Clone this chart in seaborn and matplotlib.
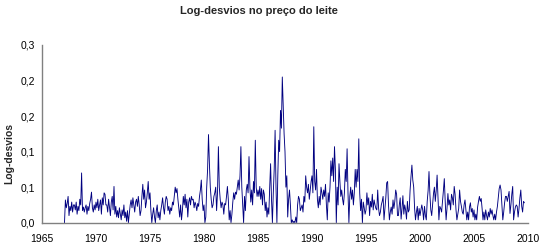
import numpy as np
import pandas as pd
import matplotlib
matplotlib.use("Agg")
import matplotlib.pyplot as plt
import seaborn as sns

# Monthly log-deviations (thousandths), Feb 1967 .. Sep 2009
y1967 = [0, 32, 21, 27, 37, 10, 23, 17, 29, 15, 25]
y1968 = [25, 18, 29, 12, 23, 17, 33, 25, 70, 17, 22, 15]
y1969 = [21, 25, 12, 23, 17, 27, 33, 43, 21, 15, 25, 18]
y1970 = [29, 21, 33, 17, 25, 32, 12, 35, 25, 42, 40, 25]
y1971 = [25, 15, 33, 21, 10, 29, 37, 18, 51, 12, 23, 8]
y1972 = [17, 7, 21, 12, 4, 18, 10, 25, 7, 15, 2, 17]
y1973 = [0, 12, 25, 32, 21, 35, 25, 15, 29, 33, 23, 37]
y1974 = [25, 10, 17, 37, 54, 33, 46, 21, 29, 42, 58, 33]
y1975 = [42, 17, 0, 12, 21, 8, 0, 17, 25, 7, 15, 4]
y1976 = [17, 25, 35, 21, 12, 29, 37, 33, 17, 23, 12, 21]
y1977 = [17, 29, 25, 37, 50, 42, 48, 33, 21, 8, 25, 4]
y1978 = [17, 37, 25, 40, 21, 33, 8, 29, 35, 25, 37, 32]
y1979 = [33, 21, 29, 25, 17, 27, 23, 37, 46, 60, 33, 17]
y1980 = [25, 0, 8, 50, 75, 124, 83, 50, 33, 21, 25, 37]
y1981 = [42, 50, 17, 42, 107, 50, 33, 21, 29, 25, 12, 27]
y1982 = [25, 37, 51, 33, 4, 17, 0, 12, 29, 42, 33, 43]
y1983 = [40, 50, 60, 46, 66, 107, 50, 25, 0, 37, 17, 46]
y1984 = [54, 42, 93, 50, 29, 46, 25, 58, 42, 116, 50, 37]
y1985 = [46, 37, 51, 33, 48, 25, 46, 40, 17, 29, 8, 21]
y1986 = [12, 50, 83, 33, 0, 42, 75, 130, 50, 0, 66, 116]
y1987 = [100, 158, 133, 205, 166, 125, 100, 50, 66, 8, 33, 46]
y1988 = [25, 0, 4, 0, 2, 0, 8, 0, 25, 37, 33, 17]
y1989 = [21, 25, 15, 37, 29, 66, 50, 42, 54, 33, 46, 58]
y1990 = [66, 42, 135, 58, 46, 75, 33, 21, 37, 25, 50, 42]
y1991 = [33, 46, 37, 54, 25, 4, 42, 29, 50, 87, 66, 91]
y1992 = [58, 107, 75, 0, 50, 25, 83, 58, 37, 46, 33, 25]
y1993 = [42, 75, 58, 104, 42, 0, 37, 50, 33, 46, 25, 42]
y1994 = [75, 50, 75, 58, 118, 42, 17, 33, 0, 29, 21, 12]
y1995 = [18, 42, 25, 35, 10, 30, 22, 40, 18, 32, 25, 20]
y1996 = [18, 46, 20, 10, 15, 25, 30, 37, 4, 20, 35, 56]
y1997 = [58, 25, 4, 15, 22, 12, 32, 20, 30, 46, 40, 10]
y1998 = [10, 25, 35, 5, 20, 38, 12, 25, 18, 5, 30, 15]
y1999 = [18, 46, 65, 81, 60, 50, 20, 4, 15, 23, 4, 20]
y2000 = [10, 18, 25, 18, 4, 23, 10, 4, 30, 45, 72, 40]
y2001 = [18, 10, 25, 41, 50, 30, 45, 67, 35, 4, 23, 20]
y2002 = [15, 30, 45, 62, 30, 4, 20, 41, 25, 32, 18, 40]
y2003 = [35, 25, 51, 40, 18, 4, 12, 20, 46, 30, 23, 15]
y2004 = [12, 25, 32, 18, 4, 15, 4, 22, 28, 15, 20, 8]
y2005 = [18, 4, 12, 4, 22, 30, 37, 30, 34, 20, 4, 15]
y2006 = [4, 18, 10, 4, 15, 8, 20, 12, 18, 10, 4, 12]
y2007 = [4, 15, 23, 35, 48, 53, 46, 25, 4, 15, 28, 37]
y2008 = [37, 30, 37, 44, 13, 25, 40, 51, 4, 15, 22, 25]
y2009 = [23, 8, 20, 35, 46, 23, 15, 30, 28]

years = [y1967, y1968, y1969, y1970, y1971, y1972, y1973, y1974, y1975,
         y1976, y1977, y1978, y1979, y1980, y1981, y1982, y1983, y1984,
         y1985, y1986, y1987, y1988, y1989, y1990, y1991, y1992, y1993,
         y1994, y1995, y1996, y1997, y1998, y1999, y2000, y2001, y2002,
         y2003, y2004, y2005, y2006, y2007, y2008, y2009]

values = np.concatenate([np.array(v, dtype=float) for v in years]) / 1000.0
dates = pd.date_range("1967-02-01", periods=len(values), freq="MS")
t = dates.year + (dates.month - 1) / 12.0

x_ticks = [1965, 1970, 1975, 1980, 1985, 1990, 1995, 2000, 2005, 2010]
y_ticks = [0.0, 0.05, 0.10, 0.15, 0.20, 0.25]
y_tick_labels = ["0,0", "0,1", "0,1", "0,2", "0,2", "0,3"]

title = "Log-desvios no preço do leite"
ylabel = "Log-desvios"

sns.set_style("white")
plt.rcParams["font.family"] = ["Liberation Sans", "DejaVu Sans"]

fig = plt.figure(figsize=(5.43, 2.5), dpi=100)
ax = fig.add_axes([42 / 543, 27.3 / 250, 486 / 543, 177.7 / 250])

df = pd.DataFrame({"t": t, "v": values})
sns.lineplot(data=df, x="t", y="v", ax=ax, color="#000080", linewidth=0.65)

ax.set_xlim(1965, 2010)
ax.set_ylim(0, 0.25)
ax.set_xticks(x_ticks)
ax.set_xticklabels([str(v) for v in x_ticks])
ax.set_yticks(y_ticks)
ax.set_yticklabels(y_tick_labels)
ax.set_xlabel("")
ax.set_ylabel("")

for s in ["top", "right"]:
    ax.spines[s].set_visible(False)
for s in ["left", "bottom"]:
    ax.spines[s].set_color("#808080")
    ax.spines[s].set_linewidth(1.0)

ax.tick_params(axis="both", which="major", direction="out", length=3,
               width=0.8, color="#808080", labelsize=7.5, labelcolor="black")
ax.tick_params(axis="x", pad=5)
ax.tick_params(axis="y", pad=2)
ax.grid(False)

fig.text(259 / 543, 1 - 11 / 250, title, ha="center", va="center",
         fontsize=8, fontweight="bold")
fig.text(9 / 543, 1 - 153 / 250, ylabel, ha="center", va="center",
         rotation=90, fontsize=7.5, fontweight="bold")

fig.savefig("out.png", dpi=100, facecolor="white")
